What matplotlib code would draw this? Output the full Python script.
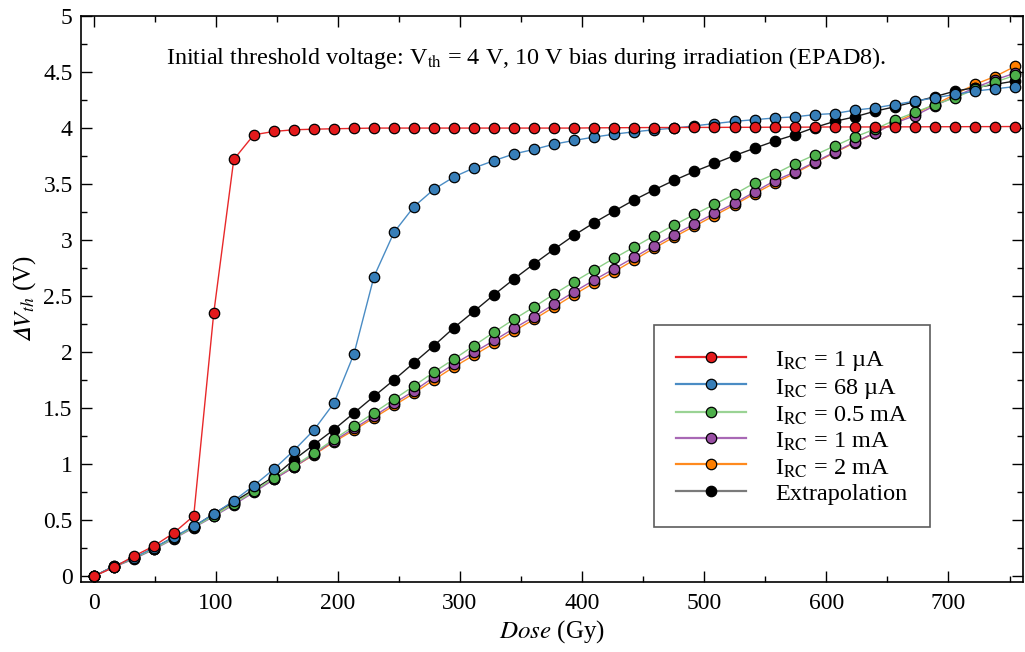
import numpy as np
import matplotlib
matplotlib.use("Agg")
import matplotlib.pyplot as plt
from matplotlib.lines import Line2D
from matplotlib.ticker import MultipleLocator, FuncFormatter

plt.rcParams['font.family'] = ['Liberation Serif', 'DejaVu Serif']
plt.rcParams['mathtext.fontset'] = 'stix'

# dose steps (Gy)
dose = [round(16.4 * i, 1) for i in range(47)]

# IRC = 1 uA
v_1ua = [0.0, 0.08, 0.18, 0.27, 0.387, 0.54, 2.35, 3.72, 3.94, 3.97,
         3.985, 3.99, 3.994, 3.997, 4.0, 4.0, 4.0, 4.0, 4.0, 4.0,
         4.0, 4.0, 4.0, 4.0, 4.0, 4.002, 4.003, 4.004, 4.005, 4.005,
         4.006, 4.006, 4.007, 4.007, 4.008, 4.008, 4.009, 4.01, 4.01, 4.01,
         4.011, 4.011, 4.012, 4.012, 4.013, 4.013, 4.014]
# IRC = 68 uA
v_68ua = [0.0, 0.09, 0.165, 0.255, 0.35, 0.45, 0.555, 0.675, 0.81, 0.957,
          1.123, 1.306, 1.546, 1.985, 2.675, 3.07, 3.30, 3.455, 3.565, 3.645,
          3.71, 3.77, 3.81, 3.857, 3.89, 3.92, 3.946, 3.967, 3.985, 4.0,
          4.02, 4.04, 4.06, 4.075, 4.09, 4.10, 4.12, 4.13, 4.16, 4.18,
          4.21, 4.24, 4.27, 4.30, 4.33, 4.35, 4.37]
# IRC = 0.5 mA
v_05ma = [0.0, 0.085, 0.16, 0.245, 0.34, 0.44, 0.54, 0.65, 0.76, 0.88,
          0.985, 1.10, 1.223, 1.342, 1.46, 1.58, 1.70, 1.824, 1.94, 2.06,
          2.18, 2.295, 2.405, 2.52, 2.63, 2.735, 2.84, 2.94, 3.04, 3.137,
          3.23, 3.32, 3.41, 3.51, 3.59, 3.68, 3.76, 3.84, 3.92, 3.99,
          4.07, 4.14, 4.21, 4.27, 4.345, 4.41, 4.47]
# IRC = 1 mA
v_1ma = [0.0, 0.082, 0.155, 0.24, 0.335, 0.435, 0.535, 0.64, 0.75, 0.865,
         0.975, 1.09, 1.21, 1.32, 1.43, 1.545, 1.655, 1.78, 1.895, 2.0,
         2.105, 2.214, 2.318, 2.43, 2.54, 2.645, 2.746, 2.848, 2.952, 3.05,
         3.145, 3.24, 3.33, 3.43, 3.53, 3.607, 3.696, 3.786, 3.875, 3.955,
         4.045, 4.11, 4.20, 4.28, 4.36, 4.43, 4.49]
# IRC = 2 mA
v_2ma = [0.0, 0.085, 0.16, 0.245, 0.345, 0.445, 0.55, 0.655, 0.76, 0.87,
         0.975, 1.085, 1.20, 1.305, 1.415, 1.525, 1.635, 1.755, 1.87, 1.975,
         2.08, 2.19, 2.295, 2.405, 2.515, 2.62, 2.72, 2.825, 2.93, 3.03,
         3.125, 3.22, 3.315, 3.415, 3.51, 3.595, 3.69, 3.78, 3.87, 3.955,
         4.05, 4.13, 4.21, 4.30, 4.39, 4.46, 4.55]
# Extrapolation
v_ext = [0.0, 0.09, 0.16, 0.25, 0.35, 0.44, 0.56, 0.665, 0.775, 0.89,
         1.04, 1.175, 1.31, 1.458, 1.607, 1.753, 1.907, 2.06, 2.22, 2.366,
         2.514, 2.655, 2.79, 2.92, 3.045, 3.157, 3.26, 3.36, 3.45, 3.535,
         3.613, 3.684, 3.755, 3.82, 3.884, 3.94, 4.005, 4.06, 4.10, 4.15,
         4.19, 4.235, 4.28, 4.33, 4.36, 4.39, 4.42]

labels = [r'I$_{\rm RC}$ = 1 µA', r'I$_{\rm RC}$ = 68 µA', r'I$_{\rm RC}$ = 0.5 mA',
          r'I$_{\rm RC}$ = 1 mA', r'I$_{\rm RC}$ = 2 mA', 'Extrapolation']
series = [v_1ua, v_68ua, v_05ma, v_1ma, v_2ma, v_ext]
mcolors = ['#e41a1c', '#377eb8', '#4daf4a', '#984ea3', '#ff7f00', '#000000']
lcolors = ['#e8282a', '#4a8cc4', '#8ccf86', '#a15caf', '#ff8a1e', '#1a1a1a']
leg_lcolors = ['#e8282a', '#4a8cc4', '#9ad394', '#a868b5', '#ff8a1e', '#7a7a7a']

fig = plt.figure(figsize=(10.25, 6.52), dpi=100)
ax = fig.add_axes([81 / 1025, 70 / 652, 942 / 1025, 566 / 652])

# bottom to top: orange, purple, black, green, blue, red
order = [4, 3, 5, 2, 1, 0]
for k, i in enumerate(order):
    ax.plot(dose, series[i], '-', color=lcolors[i], lw=1.0, zorder=2 + k * 0.1)
    ax.plot(dose, series[i], 'o', ms=7.5, mfc=mcolors[i], mec='black', mew=0.9,
            ls='none', zorder=3 + k * 0.1)

ax.set_xlim(-10.3, 761)
ax.set_ylim(-0.05, 5)
ax.xaxis.set_major_locator(MultipleLocator(100))
ax.xaxis.set_minor_locator(MultipleLocator(50))
ax.yaxis.set_major_locator(MultipleLocator(0.5))
ax.yaxis.set_minor_locator(MultipleLocator(0.25))
ax.yaxis.set_major_formatter(FuncFormatter(lambda v, p: '%g' % v))
ax.tick_params(which='both', direction='in', top=True, right=True, labelsize=17)
ax.tick_params(which='major', length=8, width=1)
ax.tick_params(which='minor', length=4, width=1)
ax.tick_params(axis='x', pad=8)
ax.tick_params(axis='y', pad=6)
for s in ax.spines.values():
    s.set_linewidth(1.2)

ax.set_xlabel(r'$\mathit{Dose}$ (Gy)', fontsize=18, labelpad=3)
ax.set_ylabel('$\U0001D6E5\\mathit{V_{th}}$ (V)', fontsize=18, labelpad=4)

ax.text(0.472, 0.926,
        r'Initial threshold voltage: V$_{\rm th}$ = 4 V, 10 V bias during irradiation (EPAD8).',
        transform=ax.transAxes, ha='center', va='center', fontsize=17.4)

handles = [Line2D([0], [0], color=leg_lcolors[i], lw=1.6, marker='o', ms=7.5,
                  mfc=mcolors[i], mec='black', mew=0.9) for i in range(6)]
leg = ax.legend(handles, labels, loc='upper left', bbox_to_anchor=(0.608, 0.454),
                fontsize=17.5, frameon=True, fancybox=False, edgecolor='#333333',
                handlelength=2.9, handletextpad=1.2, labelspacing=0.05,
                handleheight=1.05, borderpad=0.9, borderaxespad=0)
leg.get_frame().set_linewidth(1.2)

fig.savefig('out.png', dpi=100)
